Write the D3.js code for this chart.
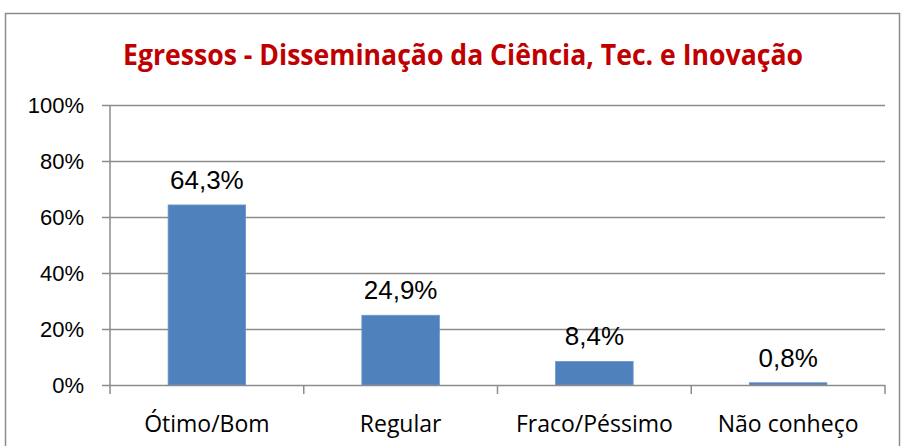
<!DOCTYPE html>
<html>
<head>
<meta charset="utf-8">
<script src="https://cdn.jsdelivr.net/npm/d3@7"></script>
<style>
  body { margin: 0; background: #fff; }
  svg { display: block; }
</style>
</head>
<body>
<div id="graph"></div>
<script>
// chart data
var categories = ["Ótimo/Bom", "Regular", "Fraco/Péssimo", "Não conheço"];
var values = [64.3, 24.9, 8.4, 0.8];
var valueLabels = ["64,3%", "24,9%", "8,4%", "0,8%"];
var yTicks = [0, 20, 40, 60, 80, 100];
var title = "Egressos - Disseminação da Ciência, Tec. e Inovação";

var W = 903, H = 446;
var margin = {top: 105, right: 18, bottom: 61, left: 110},
    width = W - margin.left - margin.right,
    height = H - margin.top - margin.bottom;

var svg = d3.select("#graph").append("svg")
    .attr("width", W)
    .attr("height", H);

// outer chart border
svg.append("rect")
    .attr("x", 5.5).attr("y", 13.5)
    .attr("width", 894).attr("height", 440)
    .attr("fill", "none")
    .attr("stroke", "#8c8c8c")
    .attr("stroke-width", 1.5);

svg.append("text")
    .attr("x", 463).attr("y", 65)
    .attr("text-anchor", "middle")
    .attr("font-family", "'Open Sans', sans-serif")
    .attr("font-weight", "bold")
    .attr("font-size", 29)
    .attr("fill", "#C00000")
    .attr("textLength", 680)
    .attr("lengthAdjust", "spacingAndGlyphs")
    .text(title);

var g = svg.append("g")
    .attr("transform", "translate(" + margin.left + "," + margin.top + ")");

var x = d3.scaleBand().domain(categories).range([0, width]).paddingInner(0.6).paddingOuter(0.3);
var xb = d3.scaleBand().domain(categories).range([0, width]);
var y = d3.scaleLinear().domain([0, 100]).range([height, 0]);

// gridlines
g.selectAll(".grid").data(yTicks.slice(1)).enter().append("line")
    .attr("x1", 0).attr("x2", width)
    .attr("y1", function(d) { return Math.round(y(d)) + 0.5; })
    .attr("y2", function(d) { return Math.round(y(d)) + 0.5; })
    .attr("stroke", "#8c8c8c")
    .attr("stroke-width", 1.5);

// y axis
var yAxis = g.append("g")
    .call(d3.axisLeft(y).tickValues(yTicks).tickSize(8).tickFormat(function(d) { return d + "%"; }));
yAxis.selectAll("path, line").attr("stroke", "#8c8c8c").attr("stroke-width", 1.5);
yAxis.select(".domain").attr("d", "M0,0V" + height);
yAxis.selectAll("text")
    .attr("x", -26)
    .attr("font-family", "'Liberation Sans', Arial, sans-serif")
    .attr("font-size", 22)
    .attr("fill", "#000");

// bars
g.selectAll(".bar").data(values).enter().append("rect")
    .attr("class", "bar")
    .attr("x", function(d, i) { return x(categories[i]); })
    .attr("width", x.bandwidth())
    .attr("y", function(d) { return y(d); })
    .attr("height", function(d) { return height - y(d); })
    .attr("fill", "#4F81BD")
    .attr("stroke", "#6b95c9")
    .attr("stroke-width", 0.8);

// value labels
g.selectAll(".lbl").data(values).enter().append("text")
    .attr("x", function(d, i) { return x(categories[i]) + x.bandwidth() / 2; })
    .attr("y", function(d) { return y(d) - 16; })
    .attr("text-anchor", "middle")
    .attr("font-family", "'Liberation Sans', Arial, sans-serif")
    .attr("font-size", 26)
    .attr("fill", "#000")
    .text(function(d, i) { return valueLabels[i]; });

// x axis with ticks at category boundaries
var xAxis = g.append("g").attr("transform", "translate(0," + height + ")");
xAxis.append("line")
    .attr("x1", 0).attr("x2", width)
    .attr("y1", 0.5).attr("y2", 0.5)
    .attr("stroke", "#8c8c8c").attr("stroke-width", 1.5);
var bounds = categories.map(function(c) { return xb(c); }).concat([width]);
xAxis.selectAll(".tk").data(bounds).enter().append("line")
    .attr("x1", function(d) { return d; }).attr("x2", function(d) { return d; })
    .attr("y1", 0).attr("y2", 9)
    .attr("stroke", "#8c8c8c").attr("stroke-width", 1.5);
xAxis.selectAll(".cat").data(categories).enter().append("text")
    .attr("x", function(d) { return xb(d) + xb.bandwidth() / 2; })
    .attr("y", 47)
    .attr("text-anchor", "middle")
    .attr("font-family", "'Open Sans', sans-serif")
    .attr("font-size", 23)
    .attr("fill", "#000")
    .text(function(d) { return d; });
</script>
</body>
</html>
